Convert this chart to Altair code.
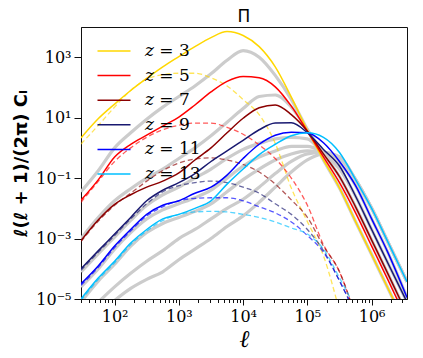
import altair as alt
import pandas as pd

# multipole grid (ell)
ell = [30, 56, 100, 178, 316, 562, 1000, 1778, 3162, 5623, 1.0e4, 1.778e4, 3.162e4,
       5.623e4, 1.0e5, 1.778e5, 3.162e5, 5.623e5, 1.0e6, 1.778e6, 3.548e6]

z_labels = ["𝑧 = 3", "𝑧 = 5", "𝑧 = 7", "𝑧 = 9", "𝑧 = 11", "𝑧 = 13"]
z_colors = ["#FFD700", "#FF0000", "#8B0000", "#191970", "#0000FF", "#00BFFF"]

# log10 of l(l+1)/(2pi) C_l
solid_z3 = [0.33, 0.97, 1.45, 1.9, 2.3, 2.68, 3.02, 3.35, 3.65, 3.85, 3.72, 3.35, 2.68, 1.68, 0.58, -0.4, -1.33, -2.44, -3.53, -4.63, -5.95]
solid_z5 = [-1.73, -1.05, -0.3, 0.12, 0.42, 0.72, 1.02, 1.42, 1.85, 2.2, 2.36, 2.32, 2.02, 1.38, 0.55, -0.3, -1.15, -2.15, -3.25, -4.35, -5.7]
solid_z7 = [-3.07, -2.38, -1.87, -1.55, -1.3, -1.1, -0.83, -0.4, 0.0, 0.5, 0.98, 1.33, 1.42, 1.1, 0.55, -0.2, -0.95, -1.95, -3.05, -4.15, -5.5]
solid_z9 = [-4.0, -3.4, -2.85, -2.3, -1.75, -1.4, -1.15, -0.85, -0.45, -0.1, 0.25, 0.6, 0.82, 0.83, 0.5, -0.05, -0.6, -1.6, -2.7, -3.8, -5.1]
solid_z11 = [-4.5, -3.9, -3.25, -2.7, -2.2, -1.9, -1.75, -1.5, -1.3, -0.9, -0.35, 0.12, 0.42, 0.52, 0.5, 0.17, -0.45, -1.25, -2.35, -3.45, -4.95]
solid_z13 = [-5.0, -4.3, -3.75, -3.15, -2.7, -2.35, -2.2, -2.0, -1.75, -1.2, -0.7, -0.22, 0.12, 0.4, 0.5, 0.35, -0.15, -1.05, -2.0, -3.1, -4.43]

dashed_z3 = [0.13, 0.75, 1.35, 1.9, 2.28, 2.42, 2.47, 2.47, 2.32, 2.05, 1.6, 1.1, 0.15, -1.33, -2.44, -3.57, -5.4, None, None, None, None]
dashed_z5 = [-1.8, -1.1, -0.45, 0.0, 0.35, 0.6, 0.75, 0.82, 0.82, 0.68, 0.45, 0.1, -0.35, -1.0, -1.9, -3.2, -4.1, -5.6, None, None, None]
dashed_z7 = [-3.1, -2.42, -1.9, -1.5, -1.1, -0.75, -0.5, -0.37, -0.33, -0.4, -0.55, -0.8, -1.2, -1.72, -2.3, -3.25, -4.1, -5.6, None, None, None]
dashed_z9 = [-4.05, -3.45, -2.9, -2.35, -1.85, -1.45, -1.25, -1.15, -1.1, -1.15, -1.3, -1.5, -1.85, -2.2, -2.7, -3.4, -4.4, -5.5, None, None, None]
dashed_z11 = [-4.55, -3.95, -3.3, -2.75, -2.25, -1.95, -1.75, -1.67, -1.65, -1.65, -1.75, -1.95, -2.15, -2.45, -2.9, -3.45, -4.4, -5.5, None, None, None]
dashed_z13 = [-5.05, -4.35, -3.8, -3.2, -2.75, -2.4, -2.2, -2.12, -2.1, -2.12, -2.2, -2.3, -2.45, -2.65, -2.85, -3.35, -4.3, -5.3, None, None, None]

gray_1 = [-1.45, -0.75, 0.0, 0.5, 0.95, 1.35, 1.7, 2.05, 2.45, 2.9, 3.22, 3.0, 2.4, 1.6, 0.6, -0.4, -1.33, -2.44, -3.53, -4.63, -5.95]
gray_2 = [-3.0, -2.3, -1.75, -1.35, -1.0, -0.7, -0.35, 0.0, 0.4, 0.85, 1.3, 1.7, 1.75, 1.35, 0.6, -0.2, -0.95, -1.95, -3.05, -4.15, -5.5]
gray_3 = [-4.1, -3.5, -2.95, -2.4, -1.9, -1.55, -1.3, -1.0, -0.7, -0.35, -0.05, 0.15, 0.3, 0.35, 0.3, -0.2, -0.7, -1.6, -2.7, -3.8, -5.1]
gray_4 = [-4.6, -4.0, -3.35, -2.8, -2.35, -2.05, -1.85, -1.65, -1.4, -1.0, -0.6, -0.3, -0.1, 0.05, 0.05, -0.15, -0.5, -1.25, -2.35, -3.45, -4.95]
gray_5 = [-5.1, -4.4, -3.85, -3.25, -2.8, -2.5, -2.3, -2.1, -1.85, -1.45, -1.05, -0.7, -0.4, -0.2, -0.1, -0.15, -0.35, -1.05, -2.0, -3.1, -4.43]
gray_6 = [None, -5.1, -4.6, -4.15, -3.75, -3.4, -3.0, -2.7, -2.35, -2.0, -1.7, -1.3, -0.85, -0.45, -0.2, -0.15, -0.3, -1.05, -2.0, -3.1, -4.43]
gray_7 = [None, None, -5.05, -4.65, -4.35, -4.1, -3.7, -3.35, -3.0, -2.6, -2.25, -1.8, -1.3, -0.8, -0.4, -0.2, -0.3, -1.05, -2.0, -3.1, -4.43]

x_major = [1e2, 1e3, 1e4, 1e5, 1e6]
x_ticks = [m * 10 ** k for k in range(1, 7) for m in range(1, 10) if 30 <= m * 10 ** k <= 3.5e6]
y_ticks = [1e-5, 1e-3, 1e-1, 1e1, 1e3]


def rows(series_list, names, kind):
    out = []
    for name, vals in zip(names, series_list):
        for i, v in enumerate(vals):
            if v is not None:
                out.append({"ell": ell[i], "C": 10 ** v, "series": name, "kind": kind, "order": i})
    return out


solid_df = pd.DataFrame(rows([solid_z3, solid_z5, solid_z7, solid_z9, solid_z11, solid_z13], z_labels, "solid"))
dashed_df = pd.DataFrame(rows([dashed_z3, dashed_z5, dashed_z7, dashed_z9, dashed_z11, dashed_z13], z_labels, "dashed"))
gray_df = pd.DataFrame(rows([gray_1, gray_2, gray_3, gray_4, gray_5, gray_6, gray_7],
                            ["g1", "g2", "g3", "g4", "g5", "g6", "g7"], "gray"))

exp_ = "round(log(datum.value)/LN10)"
is_major = f"abs(log(datum.value)/LN10 - {exp_}) < 0.001"
sup = "['⁰','¹','²','³','⁴','⁵','⁶','⁷','⁸','⁹']"
pow_label = f"'10' + ({exp_} < 0 ? '⁻' : '') + {sup}[abs({exp_})]"

x_enc = alt.X(
    "ell:Q",
    scale=alt.Scale(type="log", domain=[30, 3.55e6]),
    axis=alt.Axis(
        values=x_ticks,
        labelExpr=f"{is_major} ? {pow_label} : ''",
        tickSize={"condition": {"test": is_major, "value": 6}, "value": 3.5},
        title="ℓ",
        titleFontSize=24,
        titleFont="DejaVu Serif",
        titleFontWeight="normal",
        titleFontStyle="italic",
        titlePadding=3,
        labelPadding=3,
        grid=False,
    ),
)
y_enc = alt.Y(
    "C:Q",
    scale=alt.Scale(type="log", domain=[1e-5, 1e4]),
    axis=alt.Axis(
        values=y_ticks,
        labelExpr=pow_label,
        tickSize=7,
        title="ℓ(ℓ + 1)/(2π) Cₗ",
        titleFontSize=18,
        titleFont="DejaVu Sans",
        titleFontWeight="bold",
        titlePadding=5,
        labelPadding=3,
        grid=False,
    ),
)

gray = alt.Chart(gray_df).mark_line(color="#cccccc", strokeWidth=3.2, clip=True, interpolate="monotone").encode(
    x=x_enc, y=y_enc, detail="series:N", order="order:Q"
)
dashed = alt.Chart(dashed_df).mark_line(strokeWidth=1.3, strokeDash=[5, 3], opacity=0.65, clip=True,
                                        interpolate="monotone").encode(
    x=x_enc, y=y_enc, order="order:Q",
    color=alt.Color("series:N", scale=alt.Scale(domain=z_labels, range=z_colors), legend=None),
)
solid = alt.Chart(solid_df).mark_line(strokeWidth=1.5, clip=True, interpolate="monotone").encode(
    x=x_enc, y=y_enc, order="order:Q",
    color=alt.Color(
        "series:N",
        scale=alt.Scale(domain=z_labels, range=z_colors),
        legend=alt.Legend(
            orient="none", legendX=21, legendY=12, title=None,
            symbolType="M-1.5,0H1.5", symbolSize=484, symbolStrokeWidth=1.5,
            symbolFillColor="transparent",
            labelFont="DejaVu Serif", labelFontSize=17, labelColor="black",
            labelOffset=19, rowPadding=4.6, padding=0,
        ),
    ),
)

chart = (
    alt.layer(gray, dashed, solid)
    .resolve_scale(color="independent")
    .properties(
        width=326, height=272,
        title=alt.TitleParams("Π", fontSize=17, font="DejaVu Sans", fontWeight="normal", offset=1, color="black"),
        autosize=alt.AutoSizeParams(type="none"),
        padding={"left": 73, "top": 19, "right": 8, "bottom": 58},
    )
    .configure_view(stroke="#111111", strokeWidth=1)
    .configure_axis(
        domainColor="#111111", tickColor="#111111", labelColor="black", titleColor="black",
        labelFont="DejaVu Serif", labelFontSize=16,
    )
)

chart.save("out.html", embed_options={"renderer": "svg", "actions": False})
